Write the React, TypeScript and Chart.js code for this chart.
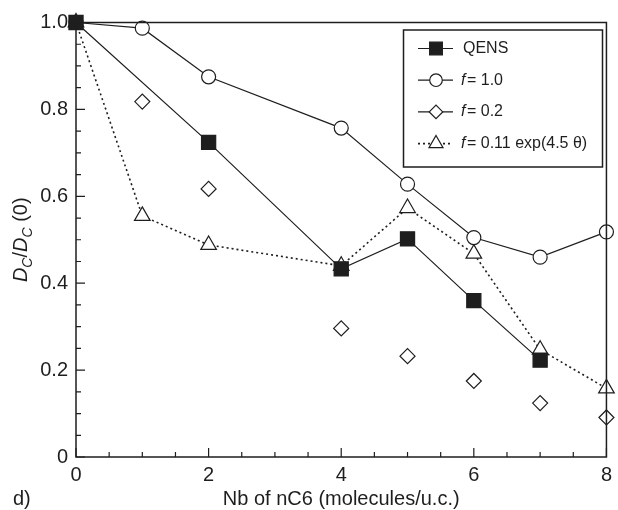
import React, { useEffect, useRef } from 'react';
import { Chart, registerables } from 'chart.js';
import { drawPoint } from 'chart.js/helpers';

Chart.register(...registerables);

// ---- data ----
const qensX = [0, 2, 4, 5, 6, 7];
const qensY = [1.0, 0.724, 0.433, 0.502, 0.36, 0.223];
const f10X = [0, 1, 2, 4, 5, 6, 7, 8];
const f10Y = [1.0, 0.987, 0.875, 0.757, 0.628, 0.505, 0.46, 0.518];
const f02X = [1, 2, 4, 5, 6, 7, 8];
const f02Y = [0.818, 0.617, 0.296, 0.232, 0.175, 0.124, 0.091];
const fexpX = [0, 1, 2, 4, 5, 6, 7, 8];
const fexpY = [1.0, 0.555, 0.488, 0.44, 0.573, 0.468, 0.247, 0.158];
const xTicks = [0, 2, 4, 6, 8];
const yTicks = [0, 0.2, 0.4, 0.6, 0.8, 1.0];
const xMinorStep = 0.5;
const yMinorStep = 0.05;
const seriesNames = ['QENS', 'f = 1.0', 'f = 0.2', 'f = 0.11 exp(4.5 θ)'];
const xTitle = 'Nb of nC6 (molecules/u.c.)';
const panelLabel = 'd)';

const FONT = "'Liberation Sans', Arial, Helvetica, sans-serif";
const INK = '#1e1e1e';

const pts = (xs: number[], ys: number[]) => xs.map((x, i) => ({ x, y: ys[i] }));

const styles = [
  { pointStyle: 'rect', radius: 10, fill: INK, line: true, dash: [] as number[] },
  { pointStyle: 'circle', radius: 7, fill: '#ffffff', line: true, dash: [] as number[] },
  { pointStyle: 'rectRot', radius: 7.5, fill: '#ffffff', line: false, dash: [] as number[] },
  { pointStyle: 'triangle', radius: 9, fill: '#ffffff', line: true, dash: [2, 3] },
];

const framePlugin = {
  id: 'frameTicks',
  afterDraw(chart: any) {
    const { ctx, chartArea: a, scales } = chart;
    const xs = scales.x;
    const ys = scales.y;
    ctx.save();
    ctx.strokeStyle = INK;
    ctx.lineWidth = 1.5;
    ctx.strokeRect(a.left, a.top, a.right - a.left, a.bottom - a.top);
    // inward ticks
    ctx.lineWidth = 1.2;
    ctx.beginPath();
    for (let v = xs.min; v <= xs.max + 1e-9; v += xMinorStep) {
      const px = xs.getPixelForValue(v);
      const major = xTicks.some((t) => Math.abs(t - v) < 1e-9);
      const len = major ? 9 : 5;
      ctx.moveTo(px, a.bottom);
      ctx.lineTo(px, a.bottom - len);
    }
    for (let v = ys.min; v <= ys.max + 1e-9; v += yMinorStep) {
      const py = ys.getPixelForValue(v);
      const major = yTicks.some((t) => Math.abs(t - v) < 1e-9);
      const len = major ? 9 : 5;
      ctx.moveTo(a.left, py);
      ctx.lineTo(a.left + len, py);
    }
    ctx.stroke();

    // y-axis title: D_C/D_C (0)
    const pieces = [
      { t: 'D', f: `italic 20px ${FONT}`, dy: 0 },
      { t: 'C', f: `italic 14px ${FONT}`, dy: 5 },
      { t: '/', f: `20px ${FONT}`, dy: 0 },
      { t: 'D', f: `italic 20px ${FONT}`, dy: 0 },
      { t: 'C', f: `italic 14px ${FONT}`, dy: 5 },
      { t: ' (0)', f: `20px ${FONT}`, dy: 0 },
    ];
    let total = 0;
    const widths = pieces.map((p) => {
      ctx.font = p.f;
      const w = ctx.measureText(p.t).width;
      total += w;
      return w;
    });
    ctx.save();
    ctx.translate(20, (a.top + a.bottom) / 2);
    ctx.rotate(-Math.PI / 2);
    ctx.fillStyle = INK;
    ctx.textBaseline = 'alphabetic';
    ctx.textAlign = 'left';
    let cx = -total / 2;
    pieces.forEach((p, i) => {
      ctx.font = p.f;
      ctx.fillText(p.t, cx, 7.2 + p.dy);
      cx += widths[i];
    });
    ctx.restore();

    // panel label
    ctx.font = `20px ${FONT}`;
    ctx.fillStyle = INK;
    ctx.textAlign = 'left';
    ctx.textBaseline = 'middle';
    ctx.fillText(panelLabel, 13, 499.5);

    // legend box
    const lx0 = 403.5, ly0 = 30, lw = 199, lh = 137;
    ctx.lineWidth = 1.5;
    ctx.strokeStyle = INK;
    ctx.strokeRect(lx0, ly0, lw, lh);
    seriesNames.forEach((name, i) => {
      const st = styles[i];
      const y = 48.5 + i * 31.7;
      ctx.save();
      ctx.lineWidth = st.dash.length ? 1.6 : 1.2;
      ctx.setLineDash(st.dash);
      ctx.beginPath();
      ctx.moveTo(418, y);
      ctx.lineTo(453, y);
      ctx.stroke();
      ctx.restore();
      ctx.fillStyle = st.fill;
      ctx.strokeStyle = INK;
      ctx.lineWidth = 1.2;
      drawPoint(ctx, { pointStyle: st.pointStyle, radius: st.radius * 0.9, rotation: 0, borderWidth: 1.2 } as any, 436, y);
      ctx.fillStyle = INK;
      ctx.textBaseline = 'middle';
      ctx.textAlign = 'left';
      if (name.startsWith('f ')) {
        ctx.font = `italic 16px ${FONT}`;
        ctx.fillText('f', 461, y);
        const fw = ctx.measureText('f').width;
        ctx.font = `16px ${FONT}`;
        ctx.fillText(name.slice(2), 461 + fw + 1.5, y);
      } else {
        ctx.font = `16px ${FONT}`;
        ctx.fillText(name, 463, y);
      }
    });
    ctx.restore();
  },
};

export default function App() {
  const ref = useRef<HTMLCanvasElement | null>(null);
  useEffect(() => {
    if (!ref.current) return;
    const series = [pts(qensX, qensY), pts(f10X, f10Y), pts(f02X, f02Y), pts(fexpX, fexpY)];
    const chart = new Chart(ref.current, {
      type: 'scatter',
      data: {
        datasets: series.map((d, i) => ({
          label: seriesNames[i],
          data: d,
          showLine: styles[i].line,
          borderColor: INK,
          borderWidth: styles[i].dash.length ? 1.6 : 1.2,
          borderDash: styles[i].dash,
          pointStyle: styles[i].pointStyle as any,
          pointRadius: styles[i].radius,
          pointBackgroundColor: styles[i].fill,
          pointBorderColor: INK,
          pointBorderWidth: 1.2,
          clip: false as any,
          tension: 0,
        })),
      },
      options: {
        animation: false,
        responsive: false,
        events: [],
        layout: { padding: { top: 22.5, right: 6, left: 0, bottom: 0 } },
        plugins: { legend: { display: false }, tooltip: { enabled: false } },
        scales: {
          x: {
            type: 'linear',
            min: 0,
            max: 8,
            afterBuildTicks: (s: any) => {
              s.ticks = xTicks.map((v) => ({ value: v }));
            },
            afterFit: (s: any) => {
              s.height = 53;
            },
            grid: { display: false, drawTicks: false },
            border: { display: false },
            ticks: {
              padding: 6,
              maxRotation: 0,
              color: INK,
              font: { family: FONT, size: 20, lineHeight: 1.2 },
              callback: (v: any) => String(v),
            },
            title: {
              display: true,
              text: xTitle,
              color: INK,
              font: { family: FONT, size: 20, lineHeight: 1 },
              padding: { top: 0, bottom: 0.5 },
            },
          },
          y: {
            type: 'linear',
            min: 0,
            max: 1,
            afterBuildTicks: (s: any) => {
              s.ticks = yTicks.map((v) => ({ value: v }));
            },
            afterFit: (s: any) => {
              s.width = 76;
            },
            grid: { display: false, drawTicks: false },
            border: { display: false },
            ticks: {
              padding: 8,
              color: INK,
              font: { family: FONT, size: 20, lineHeight: 1.2 },
              callback: (v: any) => (Number(v) === 0 ? '0' : Number(v).toFixed(1)),
            },
          },
        },
      },
      plugins: [framePlugin],
    });
    return () => chart.destroy();
  }, []);
  return (
    <div style={{ position: 'absolute', left: 0, top: 0, width: 618, height: 510, background: '#fff' }}>
      <canvas ref={ref} width={618} height={510} style={{ width: 618, height: 510, display: 'block' }} />
    </div>
  );
}
